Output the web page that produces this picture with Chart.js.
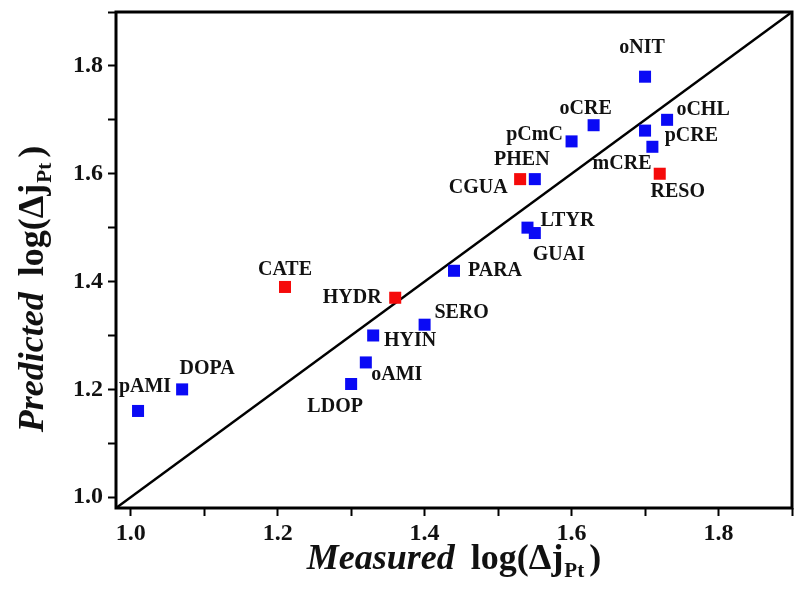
<!DOCTYPE html>
<html>
<head>
<meta charset="utf-8">
<script src="https://cdn.jsdelivr.net/npm/chart.js@4.4.1/dist/chart.umd.min.js"></script>
<style>
  body { margin: 0; background: #fff; }
</style>
</head>
<body>
<canvas id="chart" width="794" height="590"></canvas>
<script>
// ---- data ----
let names     = ['pAMI','DOPA','CATE','LDOP','oAMI','HYIN','HYDR','SERO','PARA','LTYR','GUAI','CGUA','PHEN','pCmC','oCRE','oNIT','mCRE','pCRE','oCHL','RESO'];
let measured  = [1.01, 1.07, 1.21, 1.30, 1.32, 1.33, 1.36, 1.40, 1.44, 1.54, 1.55, 1.53, 1.55, 1.60, 1.63, 1.70, 1.70, 1.71, 1.73, 1.72];
let predicted = [1.16, 1.20, 1.39, 1.21, 1.25, 1.30, 1.37, 1.32, 1.42, 1.50, 1.49, 1.59, 1.59, 1.66, 1.69, 1.78, 1.68, 1.65, 1.70, 1.60];
let redNames  = ['CATE', 'HYDR', 'CGUA', 'RESO'];
let fitLine   = [0.98, 1.9];   // y = x reference line
let axisMin = 0.98, axisMax = 1.9;

// where each label sits next to its square (pixels)
let labelOffsets = {
  pAMI: [7, -24], DOPA: [25, -21], CATE: [0, -17], LDOP: [-16, 23], oAMI: [31, 12],
  HYIN: [37, 5], HYDR: [-43, 0], SERO: [37, -12], PARA: [41, 0], LTYR: [40, -7],
  GUAI: [24, 22], CGUA: [-42, 9], PHEN: [-13, -19], pCmC: [-37, -7], oCRE: [-8, -16],
  oNIT: [-3, -29], mCRE: [-23, 33], pCRE: [39, -11], oCHL: [36, -10], RESO: [18, 18]
};

const SERIF = '"Liberation Serif", "Times New Roman", serif';

function pointsFor(isRed) {
  let out = [];
  for (let i = 0; i < names.length; i++) {
    if (redNames.includes(names[i]) === isRed) {
      out.push({ x: measured[i], y: predicted[i], name: names[i] });
    }
  }
  return out;
}

// ---- plugins ----
const pointLabels = {
  id: 'pointLabels',
  afterDatasetsDraw(chart) {
    const ctx = chart.ctx;
    ctx.save();
    ctx.font = 'bold 20px ' + SERIF;
    ctx.fillStyle = '#111';
    ctx.textAlign = 'center';
    ctx.textBaseline = 'middle';
    chart.data.datasets.forEach((ds, di) => {
      if (ds.type === 'line') return;
      const meta = chart.getDatasetMeta(di);
      meta.data.forEach((el, i) => {
        const name = ds.data[i].name;
        const off = labelOffsets[name] || [0, -18];
        ctx.fillText(name, el.x + off[0], el.y + off[1]);
      });
    });
    ctx.restore();
  }
};

const frame = {
  id: 'frame',
  afterDraw(chart) {
    const a = chart.chartArea;
    const ctx = chart.ctx;
    ctx.save();
    ctx.strokeStyle = '#000';
    ctx.lineWidth = 3;
    ctx.strokeRect(a.left, a.top, a.right - a.left, a.bottom - a.top);
    ctx.restore();
  }
};

// draws a run of text pieces [text, font, baseline shift, gap after], centred on 0
function drawRun(ctx, parts) {
  let w = 0;
  parts.forEach(p => { ctx.font = p[1]; w += ctx.measureText(p[0]).width + (p[3] || 0); });
  let x = -w / 2;
  parts.forEach(p => {
    ctx.font = p[1];
    ctx.fillText(p[0], x, p[2]);
    x += ctx.measureText(p[0]).width + (p[3] || 0);
  });
}

const axisTitles = {
  id: 'axisTitles',
  afterDraw(chart) {
    const ctx = chart.ctx;
    const a = chart.chartArea;
    const big = 'bold 36px ' + SERIF;
    const bigIt = 'italic bold 36px ' + SERIF;
    const sub = 'bold 21px ' + SERIF;
    const parts = [
      [null, bigIt, 0, 16],
      ['log(\u0394j', big, 0, 1],
      ['Pt', sub, 8, 5],
      [')', big, 0, 0]
    ];
    ctx.save();
    ctx.fillStyle = '#111';
    ctx.textAlign = 'left';
    ctx.textBaseline = 'alphabetic';

    // x title
    ctx.save();
    ctx.translate((a.left + a.right) / 2, 569);
    parts[0][0] = 'Measured';
    drawRun(ctx, parts);
    ctx.restore();

    // y title
    ctx.save();
    ctx.translate(43, 289);
    ctx.rotate(-Math.PI / 2);
    parts[0][0] = 'Predicted';
    drawRun(ctx, parts);
    ctx.restore();

    ctx.restore();
  }
};

function tickLabel(v) {
  const t = Math.round(v * 10);
  return t % 2 === 0 ? (t / 10).toFixed(1) : '';
}

function noPad(scale) {
  scale.paddingTop = 0;
  scale.paddingBottom = 0;
  scale.paddingLeft = 0;
  scale.paddingRight = 0;
}

const tickFont = { family: SERIF, size: 24, weight: 'bold' };

new Chart(document.getElementById('chart'), {
  type: 'scatter',
  data: {
    datasets: [
      {
        label: 'blue',
        data: pointsFor(false),
        pointStyle: 'rect',
        pointRadius: 8.5,
        backgroundColor: '#0a0af5',
        borderWidth: 0,
        order: 1
      },
      {
        label: 'red',
        data: pointsFor(true),
        pointStyle: 'rect',
        pointRadius: 8.5,
        backgroundColor: '#f50a0a',
        borderWidth: 0,
        order: 1
      },
      {
        type: 'line',
        label: 'fit',
        data: fitLine.map(v => ({ x: v, y: v })),
        borderColor: '#000',
        borderWidth: 2.5,
        pointRadius: 0,
        fill: false,
        order: 2
      }
    ]
  },
  options: {
    responsive: false,
    animation: false,
    layout: { autoPadding: false, padding: { top: 12, right: 2, left: 0, bottom: 0 } },
    plugins: {
      legend: { display: false },
      tooltip: { enabled: false }
    },
    scales: {
      x: {
        type: 'linear',
        min: axisMin,
        max: axisMax,
        border: { display: false },
        grid: { drawOnChartArea: false, drawTicks: true, tickLength: 8, tickColor: '#000', tickWidth: 2 },
        ticks: { stepSize: 0.1, includeBounds: false, autoSkip: false, maxRotation: 0, color: '#111', font: tickFont, padding: 3, callback: tickLabel },
        afterFit(scale) { scale.height = 82; noPad(scale); }
      },
      y: {
        type: 'linear',
        min: axisMin,
        max: axisMax,
        border: { display: false },
        grid: { drawOnChartArea: false, drawTicks: true, tickLength: 8, tickColor: '#000', tickWidth: 2 },
        ticks: { stepSize: 0.1, includeBounds: false, autoSkip: false, color: '#111', font: tickFont, padding: 5, callback: tickLabel },
        afterFit(scale) { scale.width = 116; noPad(scale); }
      }
    }
  },
  plugins: [pointLabels, frame, axisTitles]
});
</script>
</body>
</html>
